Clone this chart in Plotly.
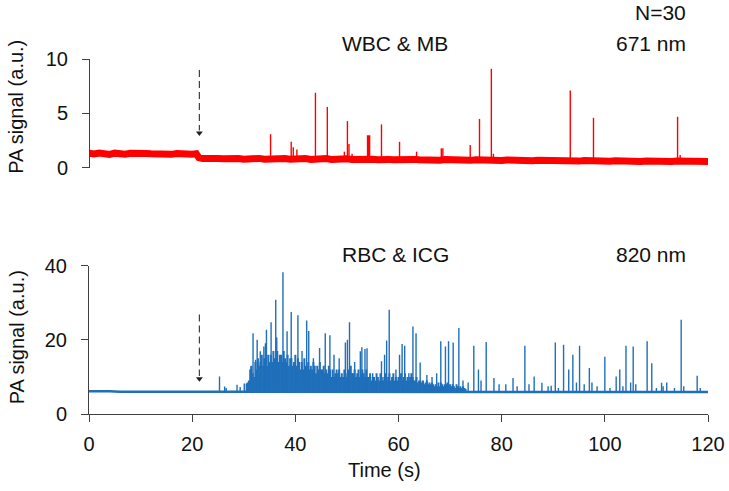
import plotly.graph_objects as go

# ---------------- data ----------------
# Top panel (671 nm, WBC & MB): baseline trace (1 s resolution) and spikes
top_base_t = [0, 1, 2, 3, 4, 5, 6, 7, 8, 9, 10, 11, 12, 13, 14, 15, 16, 17, 18, 19, 20, 20.8, 21.3, 22,
              23, 24, 25, 26, 27, 28, 29, 30, 31, 32, 33, 34, 35, 36, 37, 38, 39, 40, 41, 42, 43, 44,
              45, 46, 47, 48, 49, 50, 51, 52, 53, 54, 55, 56, 57, 58, 59, 60, 61, 62, 63, 64, 65, 66,
              67, 68, 69, 70, 71, 72, 73, 74, 75, 76, 77, 78, 79, 80, 81, 82, 83, 84, 85, 86, 87, 88,
              89, 90, 91, 92, 93, 94, 95, 96, 97, 98, 99, 100, 101, 102, 103, 104, 105, 106, 107, 108,
              109, 110, 111, 112, 113, 114, 115, 116, 117, 118, 119, 120]
top_base_v = [1.35, 1.28, 1.38, 1.3, 1.25, 1.36, 1.3, 1.27, 1.35, 1.29, 1.24, 1.33, 1.3, 1.26, 1.34, 1.28,
              1.25, 1.32, 1.27, 1.3, 1.26, 1.3, 0.95, 0.86, 0.9, 0.82, 0.88, 0.84, 0.9, 0.83, 0.87, 0.8,
              0.86, 0.84, 0.88, 0.81, 0.85, 0.9, 0.82, 0.86, 0.8, 0.85, 0.83, 0.87, 0.79, 0.84, 0.82,
              0.86, 0.78, 0.83, 0.8, 0.85, 0.79, 0.82, 0.77, 0.83, 0.8, 0.76, 0.82, 0.79, 0.75, 0.8,
              0.77, 0.74, 0.79, 0.76, 0.73, 0.78, 0.75, 0.72, 0.77, 0.74, 0.71, 0.76, 0.73, 0.7, 0.75,
              0.72, 0.7, 0.74, 0.71, 0.68, 0.73, 0.7, 0.67, 0.72, 0.69, 0.66, 0.71, 0.68, 0.66, 0.7,
              0.67, 0.64, 0.69, 0.66, 0.63, 0.68, 0.65, 0.63, 0.67, 0.64, 0.62, 0.66, 0.63, 0.61, 0.66,
              0.63, 0.6, 0.65, 0.62, 0.6, 0.64, 0.61, 0.6, 0.63, 0.6, 0.59, 0.63, 0.6, 0.62, 0.6, 0.61]
top_spike_t = [35.2, 39.2, 39.6, 40.3, 43.9, 46.2, 49.5, 50.1, 50.4, 51.0, 54.0, 54.2, 54.4, 56.7, 60.2, 63.5, 68.3, 68.6, 73.9, 75.7, 78.0, 78.4, 93.3, 97.8, 114.1, 114.6]
top_spike_v = [3.1, 2.4, 1.9, 1.7, 6.9, 5.6, 1.5, 4.3, 2.2, 1.3, 3.0, 3.0, 3.0, 4.0, 2.4, 1.5, 1.8, 1.8, 2.1, 4.5, 9.1, 1.3, 7.1, 4.6, 4.7, 1.2]

# Bottom panel (820 nm, RBC & ICG): baseline, dense burst and spikes
bot_base_t = [0, 2, 4, 6, 8, 10, 14, 18, 22, 26, 30, 40, 50, 60, 70, 80, 90, 100, 110, 120]
bot_base_v = [6.1, 6.2, 6.1, 6.0, 5.9, 6.0, 6.0, 6.0, 6.0, 6.0, 6.0, 6.0, 6.0, 6.0, 6.0, 6.0, 5.95, 5.95, 5.9, 5.9]
burst_t0 = 30.75
burst_dt = 0.25
burst_v = [8.5, 9,
           12, 13, 11, 10, 14, 12, 15, 13, 14, 16, 13, 15, 15, 13, 16, 14,
           16, 14, 17, 15, 15, 17, 14, 16, 16, 14, 17, 15, 14, 16, 13, 15,
           15, 13, 14, 16, 13, 15, 14, 12, 14, 12, 15, 13, 13, 14, 12, 13,
           12, 14, 13, 11, 13, 12, 14, 12, 12, 13, 11, 12, 11, 13, 12, 10,
           12, 10, 11, 12, 11, 12, 10, 11, 10, 12, 11, 10, 12, 11, 13, 11,
           11, 12, 10, 11, 12, 10, 11, 12, 11, 10, 12, 10, 10, 11, 9, 10,
           10, 9, 11, 10, 9, 11, 10, 9, 10, 11, 9, 10, 11, 9, 10, 11,
           9, 10, 9, 10, 10, 11, 9, 10, 11, 9, 10, 9, 10, 11, 10, 9,
           9, 10, 8.5, 9, 9, 8.5, 9, 8, 8.5, 9, 8, 8.5, 8, 8.5, 8, 7.5,
           8, 7.5, 8.5, 7.5, 8.5, 8, 7.5, 8, 8, 8.5, 7.5, 8, 7.5, 8, 7.5, 7,
           8, 7.5, 7, 7.5, 7, 7.5, 7, 6.8]
bot_spike_t = [25.3, 26.3, 26.6, 28.7, 29.3, 30.1, 30.5, 31.0, 31.4, 31.8, 32.3, 32.6, 33.2, 33.9, 34.2, 34.4, 35.3,
               36.2, 36.4, 37.6, 38.4, 39.2, 40.5, 41.3, 42.2, 42.6, 43.5, 44.7, 45.8, 46.7, 47.5, 48.5, 49.7,
               50.1, 50.5, 51.5, 52.6, 52.9, 53.5, 53.9, 55.0, 56.7, 57.3, 57.7, 58.2, 59.5, 60.2, 60.7, 61.2,
               62.0, 62.8, 63.4, 64.2, 65.5, 66.5, 67.4, 68.2, 69.1, 69.7, 70.6, 71.7, 72.5, 73.5, 74.6, 75.5,
               76.0, 77.0, 78.5, 79.5, 80.8, 82.2, 83.0, 84.5, 85.3, 86.3, 87.8, 89.0, 89.6, 90.4, 91.0, 92.0,
               93.0, 93.8, 94.5, 95.1, 96.0, 97.0, 97.5, 98.5, 100.0, 101.0, 102.2, 102.9, 103.5, 104.1, 105.0,
               105.5, 106.0, 108.2, 109.1, 110.0, 111.0, 111.3, 112.0, 113.5, 114.8, 115.3, 117.9, 118.5]
bot_spike_v = [10.1, 7.4, 7.0, 7.9, 7.3, 8.2, 8.2, 8.5, 12.8, 21.8, 14.6, 20.0, 16.9, 18.2, 19.1, 22.7, 24.7,
               30.8, 20.6, 38.2, 22.3, 27.5, 26.6, 17.0, 25.2, 22.4, 15.0, 17.8, 21.8, 21.2, 16.0, 15.0, 19.3,
               20.0, 24.7, 14.0, 16.9, 18.0, 17.5, 17.7, 11.0, 14.2, 16.0, 19.8, 28.1, 12.0, 16.0, 18.9, 18.4,
               11.0, 23.6, 21.8, 13.9, 10.5, 10.0, 11.0, 19.6, 18.2, 19.6, 19.3, 23.2, 9.0, 8.5, 18.4, 12.0,
               9.0, 19.4, 9.7, 8.0, 8.0, 9.7, 7.5, 18.4, 8.0, 10.1, 8.4, 7.5, 7.6, 19.3, 7.0, 18.7,
               12.0, 16.0, 8.5, 18.4, 8.0, 12.4, 8.5, 7.5, 15.4, 7.0, 10.1, 12.0, 7.5, 18.4, 8.5,
               18.2, 8.0, 19.6, 13.7, 7.0, 8.4, 7.5, 8.5, 7.0, 25.4, 7.5, 10.3, 7.0]

arrow_t = 21.4
top_arrow_y = [9.0, 2.9]
bot_arrow_y = [26.8, 8.6]

RED = "#ff0000"
BLUE = "#1f6fba"
FONT = "Liberation Sans, Arial, sans-serif"


def spikes(ts, vs, base):
    xs, ys = [], []
    for t, v in zip(ts, vs):
        xs += [t, t, None]
        ys += [base, v, None]
    return xs, ys


fig = go.Figure()

# top panel
fig.add_trace(go.Scatter(x=top_base_t, y=top_base_v, mode="lines",
                         line=dict(color=RED, width=7), xaxis="x", yaxis="y2",
                         hoverinfo="skip"))
sx, sy = spikes(top_spike_t, top_spike_v, 0.8)
fig.add_trace(go.Scatter(x=sx, y=sy, mode="lines", line=dict(color=RED, width=1.4),
                         xaxis="x", yaxis="y2", hoverinfo="skip"))

# bottom panel
burst_t = [burst_t0 + burst_dt * i for i in range(len(burst_v))]
bx, by = spikes(burst_t, burst_v, 6.0)
fig.add_trace(go.Scatter(x=bx, y=by, mode="lines", line=dict(color=BLUE, width=2.0),
                         xaxis="x", yaxis="y", hoverinfo="skip"))
sx, sy = spikes(bot_spike_t, bot_spike_v, 6.0)
fig.add_trace(go.Scatter(x=sx, y=sy, mode="lines", line=dict(color=BLUE, width=1.4),
                         xaxis="x", yaxis="y", hoverinfo="skip"))
fig.add_trace(go.Scatter(x=bot_base_t, y=bot_base_v, mode="lines",
                         line=dict(color=BLUE, width=2.5), xaxis="x", yaxis="y",
                         hoverinfo="skip"))

# dashed arrows
for ya, yref in [(top_arrow_y, "y2"), (bot_arrow_y, "y")]:
    span = ya[0] - ya[1]
    fig.add_trace(go.Scatter(x=[arrow_t, arrow_t], y=[ya[0], ya[1] + span * 0.09], mode="lines",
                             line=dict(color="#404040", width=1.2, dash="7px,4px"),
                             xaxis="x", yaxis=yref, hoverinfo="skip"))
    fig.add_trace(go.Scatter(x=[arrow_t], y=[ya[1] + span * 0.05], mode="markers",
                             marker=dict(symbol="triangle-down", size=6, color="#202020"),
                             xaxis="x", yaxis=yref, hoverinfo="skip"))

axis_common = dict(showgrid=False, zeroline=False, showline=True, linecolor="#404040",
                   linewidth=1, ticks="outside", ticklen=7, tickcolor="#404040",
                   tickfont=dict(family=FONT, size=20, color="#111"))

fig.update_layout(
    width=729, height=491,
    margin=dict(l=88.5, r=21, t=59.3, b=76.7, autoexpand=False),
    paper_bgcolor="white", plot_bgcolor="white",
    showlegend=False,
    xaxis=dict(range=[0, 120], tickvals=[0, 20, 40, 60, 80, 100, 120],
               anchor="y", ticklabelstandoff=5, **axis_common),
    yaxis=dict(domain=[0, 0.418], range=[0, 40], tickvals=[0, 20, 40],
               anchor="x", ticklabelstandoff=10, **axis_common),
    yaxis2=dict(domain=[0.693, 1.0], range=[0, 10], tickvals=[0, 5, 10],
                anchor="free", position=0, ticklabelstandoff=10, **axis_common),
)

ann_font = dict(family=FONT, size=21, color="#111")
annots = [
    dict(text="N=30", x=0.968, y=1.13, xanchor="right"),
    dict(text="671 nm", x=0.968, y=1.043, xanchor="right"),
    dict(text="WBC &amp; MB", x=0.495, y=1.043, xanchor="center"),
    dict(text="RBC &amp; ICG", x=0.495, y=0.449, xanchor="center"),
    dict(text="820 nm", x=0.968, y=0.449, xanchor="right"),
]
for a in annots:
    fig.add_annotation(xref="paper", yref="paper", yanchor="middle", showarrow=False,
                       font=ann_font, **a)
title_font = dict(family=FONT, size=20, color="#111")
for a in [dict(text="Time (s)", x=0.4775, y=-0.157),
          dict(text="PA signal (a.u.)", x=-0.117, y=0.864, textangle=-90),
          dict(text="PA signal (a.u.)", x=-0.117, y=0.215, textangle=-90)]:
    fig.add_annotation(xref="paper", yref="paper", xanchor="center", yanchor="middle",
                       showarrow=False, font=title_font, **a)

fig.write_html("out.html", config={"displayModeBar": False},
               post_script="document.body.style.margin='0';document.body.style.overflow='hidden';")
